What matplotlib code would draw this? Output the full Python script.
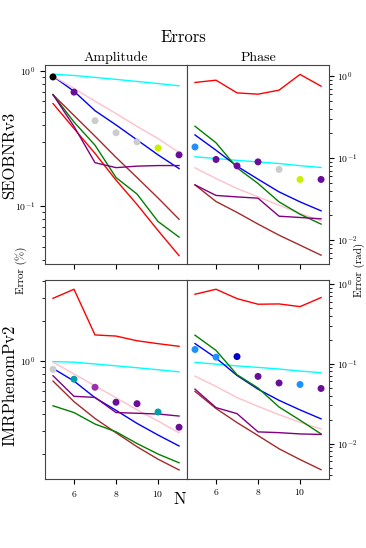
import matplotlib as mpl
import matplotlib.pyplot as plt
from matplotlib.ticker import NullFormatter

mpl.use('Agg')
plt.rcParams['font.family'] = 'cmr10'
plt.rcParams['mathtext.fontset'] = 'cm'
plt.rcParams['axes.formatter.use_mathtext'] = True

N = [5, 6, 7, 8, 9, 10, 11]
line_colors = ['red', 'cyan', 'blue', 'pink', 'brown', 'green', 'purple']

# SEOBNRv3 amplitude error (%)
seob_amp = {
    'red':    [0.576, 0.376, 0.246, 0.156, 0.103, 0.066, 0.043],
    'cyan':   [0.95, 0.93, 0.90, 0.87, 0.84, 0.81, 0.78],
    'blue':   [0.918, 0.71, 0.51, 0.40, 0.31, 0.24, 0.19],
    'pink':   [0.92, 0.745, 0.60, 0.486, 0.39, 0.317, 0.25],
    'brown':  [0.67, 0.47, 0.33, 0.23, 0.163, 0.115, 0.080],
    'green':  [0.67, 0.42, 0.283, 0.163, 0.123, 0.077, 0.059],
    'purple': [0.67, 0.39, 0.21, 0.193, 0.198, 0.20, 0.20],
}
seob_amp_dots = [0.907, 0.70, 0.43, 0.35, 0.30, 0.27, 0.24]
seob_amp_dot_colors = ['black', '#6a0d9a', '#cccccc', '#cccccc', '#cccccc', '#c8f000', '#6a0d9a']

# SEOBNRv3 phase error (rad)
seob_phase = {
    'red':    [0.838, 0.893, 0.625, 0.603, 0.675, 1.05, 0.755],
    'cyan':   [0.104, 0.099, 0.094, 0.090, 0.086, 0.081, 0.077],
    'blue':   [0.192, 0.125, 0.0798, 0.0554, 0.0388, 0.0293, 0.0228],
    'pink':   [0.0762, 0.0565, 0.0427, 0.0337, 0.0267, 0.0212, 0.0172],
    'brown':  [0.0472, 0.0296, 0.0218, 0.0157, 0.0115, 0.00869, 0.00656],
    'green':  [0.245, 0.154, 0.0762, 0.0491, 0.0293, 0.0207, 0.0157],
    'purple': [0.0472, 0.0351, 0.0337, 0.0325, 0.0196, 0.0189, 0.0182],
}
seob_phase_dots = [0.137, 0.0964, 0.0806, 0.0901, 0.0728, 0.055, 0.055]
seob_phase_dot_colors = ['#1e90ff', '#6a0d9a', '#6a0d9a', '#6a0d9a', '#cccccc', '#c8f000', '#6a0d9a']

# IMRPhenomPv2 amplitude error (%)
imr_amp = {
    'red':    [2.96, 3.46, 1.57, 1.54, 1.42, 1.35, 1.29],
    'cyan':   [0.99, 0.98, 0.95, 0.92, 0.89, 0.86, 0.83],
    'blue':   [0.88, 0.707, 0.53, 0.426, 0.34, 0.278, 0.23],
    'pink':   [0.98, 0.80, 0.65, 0.53, 0.43, 0.354, 0.289],
    'brown':  [0.707, 0.495, 0.37, 0.289, 0.227, 0.183, 0.152],
    'green':  [0.461, 0.41, 0.336, 0.294, 0.24, 0.20, 0.172],
    'purple': [0.775, 0.543, 0.533, 0.41, 0.405, 0.40, 0.386],
}
imr_amp_dots = [0.866, 0.73, 0.635, 0.49, 0.478, 0.414, 0.318]
imr_amp_dot_colors = ['#cccccc', '#00a0a8', '#9a30b0', '#6a0d9a', '#6a0d9a', '#00a0a8', '#6a0d9a']

# IMRPhenomPv2 phase error (rad)
imr_phase = {
    'red':    [0.743, 0.858, 0.655, 0.557, 0.562, 0.52, 0.675],
    'cyan':   [0.104, 0.099, 0.094, 0.090, 0.086, 0.081, 0.0773],
    'blue':   [0.179, 0.118, 0.0713, 0.048, 0.0348, 0.0264, 0.0204],
    'pink':   [0.070, 0.052, 0.0377, 0.0293, 0.023, 0.0185, 0.0152],
    'brown':  [0.045, 0.0275, 0.0183, 0.0126, 0.0086, 0.0063, 0.0047],
    'green':  [0.228, 0.147, 0.0729, 0.0497, 0.0287, 0.0196, 0.0132],
    'purple': [0.048, 0.0282, 0.0237, 0.0140, 0.0137, 0.0132, 0.013],
}
imr_phase_dots = [0.151, 0.121, 0.123, 0.0694, 0.0574, 0.055, 0.049]
imr_phase_dot_colors = ['#1e90ff', '#1e90ff', '#0000cc', '#6a0d9a', '#6a0d9a', '#1e90ff', '#6a0d9a']


def draw(ax, lines, dots, dot_colors, ylim):
    for c in line_colors:
        ax.plot(N, lines[c], color=c, lw=1)
    ax.scatter(N, dots, c=dot_colors, s=16, zorder=3)
    ax.set_yscale('log')
    ax.set_xlim(4.62, 11.38)
    ax.set_ylim(*ylim)
    ax.set_xticks([6, 8, 10])
    ax.yaxis.set_minor_formatter(NullFormatter())
    ax.tick_params(labelsize=7)
    for s in ax.spines.values():
        s.set_color('#444444')


def main():
    fig = plt.figure(figsize=(3.66, 5.48), dpi=100)
    l, m, r = 0.123, 0.511, 0.899
    ax1 = fig.add_axes([l, 0.518, m - l, 0.363])
    ax2 = fig.add_axes([m, 0.518, r - m, 0.363])
    ax3 = fig.add_axes([l, 0.126, m - l, 0.363])
    ax4 = fig.add_axes([m, 0.126, r - m, 0.363])

    draw(ax1, seob_amp, seob_amp_dots, seob_amp_dot_colors, (0.0372, 1.108))
    draw(ax2, seob_phase, seob_phase_dots, seob_phase_dot_colors, (0.0051, 1.36))
    draw(ax3, imr_amp, imr_amp_dots, imr_amp_dot_colors, (0.13, 4.06))
    draw(ax4, imr_phase, imr_phase_dots, imr_phase_dot_colors, (0.0036, 1.12))

    for ax in (ax1, ax2):
        ax.tick_params(labelbottom=False)
    for ax in (ax2, ax4):
        ax.yaxis.tick_right()
        ax.tick_params(which='both', left=False, pad=2)

    ax1.set_title('Amplitude', fontsize=10, pad=3)
    ax2.set_title('Phase', fontsize=10, pad=3)
    fig.text(0.5, 0.931, 'Errors', fontsize=12, ha='center', va='center')
    fig.text(0.027, 0.717, 'SEOBNRv3', fontsize=12, rotation=90, ha='center', va='center')
    fig.text(0.027, 0.297, 'IMRPhenomPv2', fontsize=12, rotation=90, ha='center', va='center')
    fig.text(0.057, 0.507, 'Error (%)', fontsize=8, rotation=90, ha='center', va='center')
    fig.text(0.983, 0.507, 'Error (rad)', fontsize=8, rotation=90, ha='center', va='center')
    fig.text(0.49, 0.088, 'N', fontsize=12, ha='center', va='center')

    fig.savefig('out.png', dpi=100)


if __name__ == '__main__':
    main()
